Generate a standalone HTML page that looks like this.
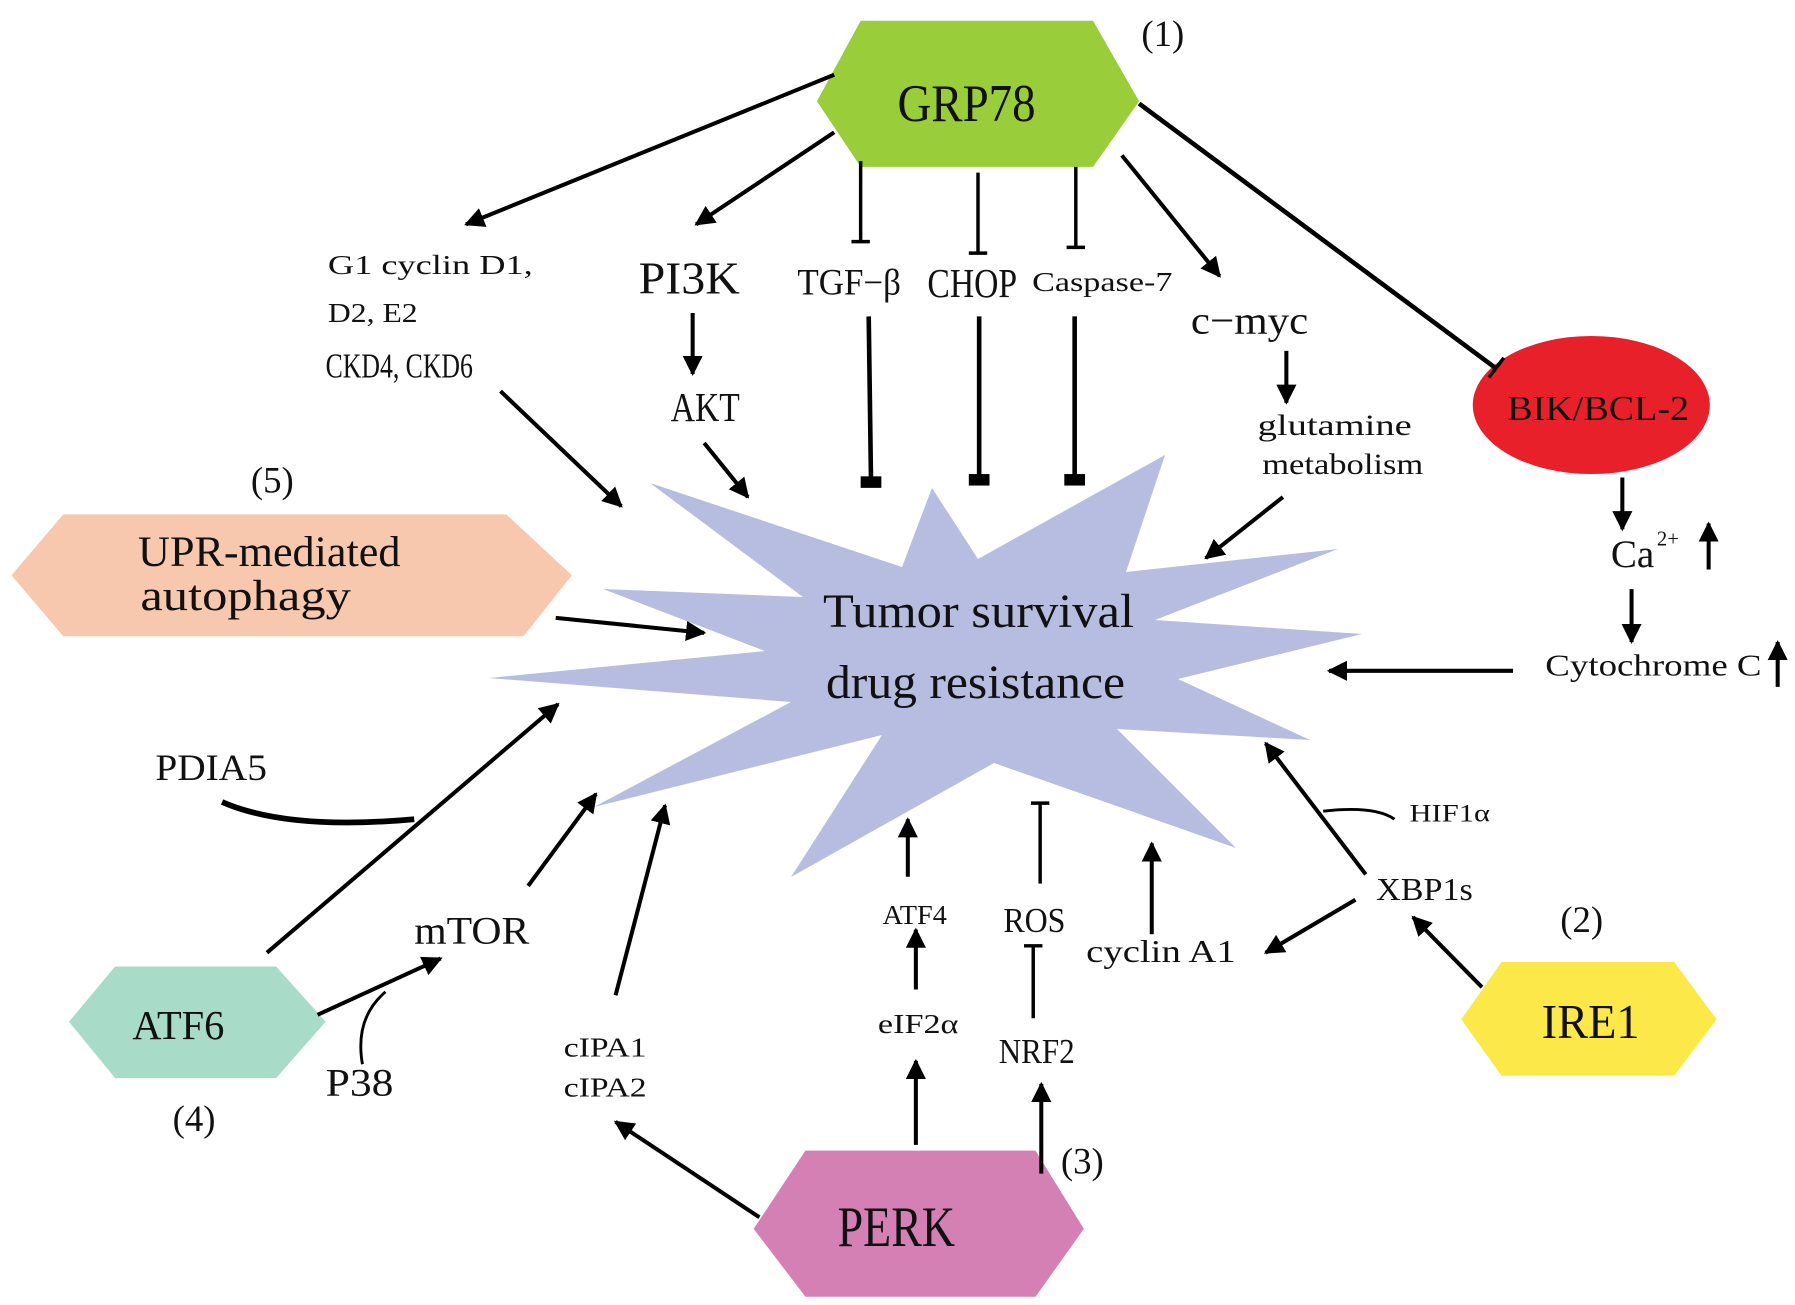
<!DOCTYPE html>
<html><head><meta charset="utf-8"><style>
html,body{margin:0;padding:0;background:#fff;}
svg{display:block;}
text{font-family:"Liberation Serif","Noto Serif CJK SC",serif;fill:#111;}
</style></head><body>
<svg width="1795" height="1305" viewBox="0 0 1795 1305" xmlns="http://www.w3.org/2000/svg">
<defs>
<marker id="a" viewBox="0 0 10 10" refX="9" refY="5" markerWidth="5" markerHeight="5" markerUnits="strokeWidth" orient="auto"><path d="M0,0 L10,5 L0,10 z" fill="#000"/></marker>
</defs>
<polygon fill="#b7bde0" points="650,483 902,567 932,488 978,559 1165,455 1126,572 1338,549 1155,620 1362,634 1178,679 1310,740 1117,729 1236,848 994,763 791,877 882,735 594,807 791,702 489,678 765,651 603,589 803,597"/>
<text x="823" y="627" font-size="48" textLength="311" lengthAdjust="spacingAndGlyphs">Tumor survival</text>
<text x="826" y="698" font-size="48" textLength="299" lengthAdjust="spacingAndGlyphs">drug resistance</text>
<g transform="scale(1.1506)">
<g stroke="#000" fill="none">
<polygon points="710,88 748,18 950,18 990,88 950,145 748,145" fill="#9acd3a" stroke="none"/>
<polygon points="10,500 55,447 440,447 497,500 455,553 55,553" fill="#f8c8ae" stroke="none"/>
<polygon points="60,888 100,840 240,840 283,888 240,937 100,937" fill="#a8dcc8" stroke="none"/>
<polygon points="655,1068 700,1000 900,1000 942,1068 900,1127 700,1127" fill="#d580b4" stroke="none"/>
<polygon points="1270,886 1305,836 1455,836 1492,886 1455,935 1305,935" fill="#fde84a" stroke="none"/>
<ellipse cx="1383" cy="352" rx="103" ry="60" fill="#e8202a" stroke="none"/>

<g stroke-width="3.5" marker-end="url(#a)">
<line x1="725" y1="65" x2="405" y2="195"/>
<line x1="725" y1="115" x2="605" y2="195"/>
<line x1="975" y1="135" x2="1060" y2="240"/>
<line x1="602" y1="272" x2="602" y2="325"/>
<line x1="1118" y1="305" x2="1118" y2="350"/>
<line x1="435" y1="340" x2="540" y2="440"/>
<line x1="612" y1="385" x2="650" y2="432"/>
<line x1="1115" y1="432" x2="1048" y2="485"/>
<line x1="1410" y1="415" x2="1410" y2="460"/>
<line x1="1485" y1="495" x2="1485" y2="455"/>
<line x1="1418" y1="512" x2="1418" y2="558"/>
<line x1="1545" y1="597" x2="1545" y2="558"/>
<line x1="1315" y1="583" x2="1155" y2="583"/>
<line x1="483" y1="537" x2="612" y2="550"/>
<line x1="232" y1="828" x2="485" y2="612"/>
<line x1="276" y1="882" x2="383" y2="833"/>
<line x1="459" y1="770" x2="518" y2="690"/>
<line x1="535" y1="865" x2="578" y2="700"/>
<line x1="660" y1="1058" x2="535" y2="975"/>
<line x1="796" y1="995" x2="796" y2="922"/>
<line x1="796" y1="860" x2="796" y2="808"/>
<line x1="789" y1="762" x2="789" y2="712"/>
<line x1="905" y1="1020" x2="905" y2="942"/>
<line x1="1001" y1="812" x2="1001" y2="733"/>
<line x1="1187" y1="760" x2="1100" y2="646"/>
<line x1="1178" y1="782" x2="1100" y2="828"/>
<line x1="1288" y1="858" x2="1228" y2="797"/>
</g>
<g stroke-width="3">
<line x1="748" y1="140" x2="748" y2="210"/><line x1="740" y1="210" x2="756" y2="210"/>
<line x1="850" y1="150" x2="850" y2="220"/><line x1="842" y1="220" x2="858" y2="220"/>
<line x1="935" y1="145" x2="935" y2="215"/><line x1="927" y1="215" x2="943" y2="215"/>
<line x1="990" y1="90" x2="1300" y2="320" stroke-width="4"/><line x1="1307" y1="311" x2="1294" y2="328"/>
<line x1="898" y1="885" x2="898" y2="822"/><line x1="890" y1="822" x2="906" y2="822"/>
<line x1="904" y1="768" x2="904" y2="698"/><line x1="896" y1="698" x2="912" y2="698"/>
</g>
<g stroke-width="4">
<line x1="755" y1="275" x2="757" y2="418"/>
<line x1="851" y1="275" x2="851" y2="416"/>
<line x1="934" y1="275" x2="934" y2="416"/>
</g>
<rect x="748" y="414" width="18" height="10" fill="#000" stroke="none"/>
<rect x="842" y="412" width="18" height="10" fill="#000" stroke="none"/>
<rect x="925" y="412" width="18" height="10" fill="#000" stroke="none"/>
<path d="M193,697 Q250,722 360,712" stroke-width="5"/>
<path d="M315,925 Q308,885 335,862" stroke-width="2.5"/>
<path d="M1150,705 Q1195,700 1212,712" stroke-width="2.5"/>
</g>

<text x="780" y="105" font-size="46" textLength="120" lengthAdjust="spacingAndGlyphs">GRP78</text>
<text x="992" y="40" font-size="32">(1)</text>
<text x="285" y="238" font-size="24" textLength="178" lengthAdjust="spacingAndGlyphs">G1 cyclin D1,</text>
<text x="285" y="280" font-size="24" textLength="78" lengthAdjust="spacingAndGlyphs">D2, E2</text>
<text x="283" y="328" font-size="30" textLength="128" lengthAdjust="spacingAndGlyphs">CKD4, CKD6</text>
<text x="555" y="255" font-size="40" textLength="88" lengthAdjust="spacingAndGlyphs">PI3K</text>
<text x="583" y="366" font-size="36" textLength="60" lengthAdjust="spacingAndGlyphs">AKT</text>
<text x="693" y="256" font-size="32" textLength="90" lengthAdjust="spacingAndGlyphs">TGF−β</text>
<text x="806" y="258" font-size="36" textLength="78" lengthAdjust="spacingAndGlyphs">CHOP</text>
<text x="897" y="253" font-size="24" textLength="122" lengthAdjust="spacingAndGlyphs">Caspase-7</text>
<text x="1035" y="290" font-size="34" textLength="102" lengthAdjust="spacingAndGlyphs">c−myc</text>
<text x="1093" y="378" font-size="26" textLength="134" lengthAdjust="spacingAndGlyphs">glutamine</text>
<text x="1097" y="412" font-size="26" textLength="140" lengthAdjust="spacingAndGlyphs">metabolism</text>
<text x="1310" y="365" font-size="30" textLength="158" lengthAdjust="spacingAndGlyphs">BIK/BCL-2</text>
<text x="1400" y="493" font-size="34">Ca</text>
<text x="1440" y="474" font-size="18">2+</text>
<text x="1343" y="587" font-size="27" textLength="188" lengthAdjust="spacingAndGlyphs">Cytochrome C</text>
<text x="218" y="428" font-size="32">(5)</text>
<text x="120" y="492" font-size="38" textLength="228" lengthAdjust="spacingAndGlyphs">UPR-mediated</text>
<text x="122" y="530" font-size="38" textLength="183" lengthAdjust="spacingAndGlyphs">autophagy</text>
<text x="135" y="678" font-size="32" textLength="97" lengthAdjust="spacingAndGlyphs">PDIA5</text>
<text x="115" y="903" font-size="36" textLength="80" lengthAdjust="spacingAndGlyphs">ATF6</text>
<text x="150" y="983" font-size="32">(4)</text>
<text x="360" y="820" font-size="34" textLength="100" lengthAdjust="spacingAndGlyphs">mTOR</text>
<text x="283" y="952" font-size="34" textLength="59" lengthAdjust="spacingAndGlyphs">P38</text>
<text x="490" y="918" font-size="24" textLength="72" lengthAdjust="spacingAndGlyphs">cIPA1</text>
<text x="490" y="953" font-size="24" textLength="72" lengthAdjust="spacingAndGlyphs">cIPA2</text>
<text x="728" y="1083" font-size="50" textLength="102" lengthAdjust="spacingAndGlyphs">PERK</text>
<text x="922" y="1020" font-size="32">(3)</text>
<text x="763" y="898" font-size="24" textLength="70" lengthAdjust="spacingAndGlyphs">eIF2α</text>
<text x="767" y="803" font-size="24" textLength="56" lengthAdjust="spacingAndGlyphs">ATF4</text>
<text x="868" y="924" font-size="30" textLength="66" lengthAdjust="spacingAndGlyphs">NRF2</text>
<text x="872" y="810" font-size="30" textLength="54" lengthAdjust="spacingAndGlyphs">ROS</text>
<text x="944" y="836" font-size="28" textLength="130" lengthAdjust="spacingAndGlyphs">cyclin A1</text>
<text x="1196" y="782" font-size="28" textLength="84" lengthAdjust="spacingAndGlyphs">XBP1s</text>
<text x="1225" y="714" font-size="22" textLength="70" lengthAdjust="spacingAndGlyphs">HIF1α</text>
<text x="1356" y="810" font-size="32">(2)</text>
<text x="1340" y="902" font-size="42" textLength="85" lengthAdjust="spacingAndGlyphs">IRE1</text>
</g>
</svg>
</body></html>
